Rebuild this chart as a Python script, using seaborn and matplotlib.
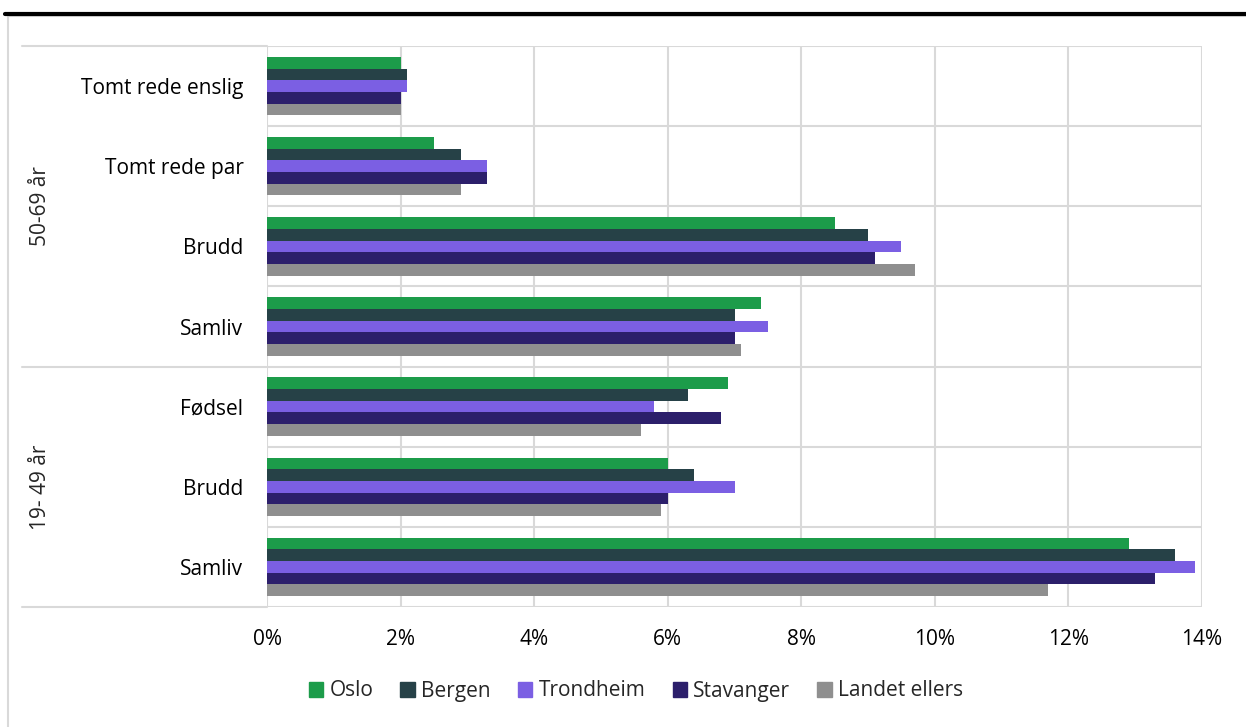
import matplotlib

matplotlib.use("Agg")
import matplotlib.pyplot as plt
import pandas as pd
import seaborn as sns
from matplotlib.lines import Line2D
from matplotlib.patches import Rectangle
from matplotlib.ticker import FuncFormatter, MultipleLocator

# --- data (top to bottom) ---
GROUPS = ["50-69 år", "50-69 år", "50-69 år", "50-69 år", "19- 49 år", "19- 49 år", "19- 49 år"]
EVENTS = ["Tomt rede enslig", "Tomt rede par", "Brudd", "Samliv", "Fødsel", "Brudd", "Samliv"]
CITIES = ["Oslo", "Bergen", "Trondheim", "Stavanger", "Landet ellers"]

OSLO = [2.0, 2.5, 8.5, 7.4, 6.9, 6.0, 12.9]
BERGEN = [2.1, 2.9, 9.0, 7.0, 6.3, 6.4, 13.6]
TRONDHEIM = [2.1, 3.3, 9.5, 7.5, 5.8, 7.0, 13.9]
STAVANGER = [2.0, 3.3, 9.1, 7.0, 6.8, 6.0, 13.3]
LANDET = [2.0, 2.9, 9.7, 7.1, 5.6, 5.9, 11.7]

COLORS = ["#1c9c4a", "#264147", "#7b5fe3", "#2c1f6b", "#8f8f8f"]
GRID = "#d9d9d9"
FS = 15

sns.set_style("white")
plt.rcParams["font.family"] = ["Open Sans", "DejaVu Sans"]
plt.rcParams["font.size"] = FS

keys = [f"{g}|{e}" for g, e in zip(GROUPS, EVENTS)]
series = [OSLO, BERGEN, TRONDHEIM, STAVANGER, LANDET]
rows = []
for city, vals in zip(CITIES, series):
    for k, v in zip(keys, vals):
        rows.append({"key": k, "city": city, "value": v})
df = pd.DataFrame(rows)

fig = plt.figure(figsize=(12.46, 7.27), dpi=100)
W, H = 1246, 727
ax = fig.add_axes([267 / W, 1 - 607 / H, (1202 - 267) / W, (607 - 46) / H])

sns.barplot(data=df, y="key", x="value", hue="city", order=keys, hue_order=CITIES,
            palette=COLORS, orient="h", width=0.73, linewidth=0, saturation=1,
            ax=ax, legend=False)

ax.set_xlim(0, 14)
ax.set_ylim(len(keys) - 0.5, -0.5)
ax.xaxis.set_major_locator(MultipleLocator(2))
ax.xaxis.set_major_formatter(FuncFormatter(lambda v, _: f"{v:.0f}%"))
ax.set_yticks(range(len(keys)))
ax.set_yticklabels(EVENTS)
ax.set_xlabel("")
ax.set_ylabel("")
ax.tick_params(axis="both", length=0, labelsize=FS, colors="#000000")
ax.tick_params(axis="y", pad=17)
ax.tick_params(axis="x", pad=16)
for s in ax.spines.values():
    s.set_visible(False)

# grid: vertical at each 2%, horizontal at category boundaries
ax.set_axisbelow(True)
for xv in range(0, 15, 2):
    ax.axvline(xv, color=GRID, lw=1.5, zorder=0)
for yb in [i - 0.5 for i in range(len(keys) + 1)]:
    ax.axhline(yb, color=GRID, lw=1.5, zorder=0)

# group boundary lines extend into the label area
for yp in [46, 367, 607]:
    fig.add_artist(Line2D([22 / W, 267 / W], [1 - yp / H, 1 - yp / H], color=GRID, lw=1.5))

# outer group labels
fig.text(41 / W, 1 - 206 / H, "50-69 år", rotation=90, ha="center", va="center", fontsize=FS)
fig.text(41 / W, 1 - 487 / H, "19- 49 år", rotation=90, ha="center", va="center", fontsize=FS)

# frame and top rule
fig.add_artist(Rectangle((8 / W, -0.1), 1.2, 1 - 16 / H + 0.1, fill=False, ec=GRID, lw=1.5))
fig.add_artist(Line2D([5 / W, 1], [1 - 13.5 / H, 1 - 13.5 / H], color="black", lw=3))

handles = [Rectangle((0, 0), 1, 1, color=c) for c in COLORS]
fig.legend(handles, CITIES, loc="center", bbox_to_anchor=(636 / W, 1 - 691 / H), ncol=5,
           frameon=False, handlelength=0.7, handleheight=0.7, handletextpad=0.3,
           columnspacing=1.3, fontsize=FS)

fig.savefig("out.png", dpi=100)
